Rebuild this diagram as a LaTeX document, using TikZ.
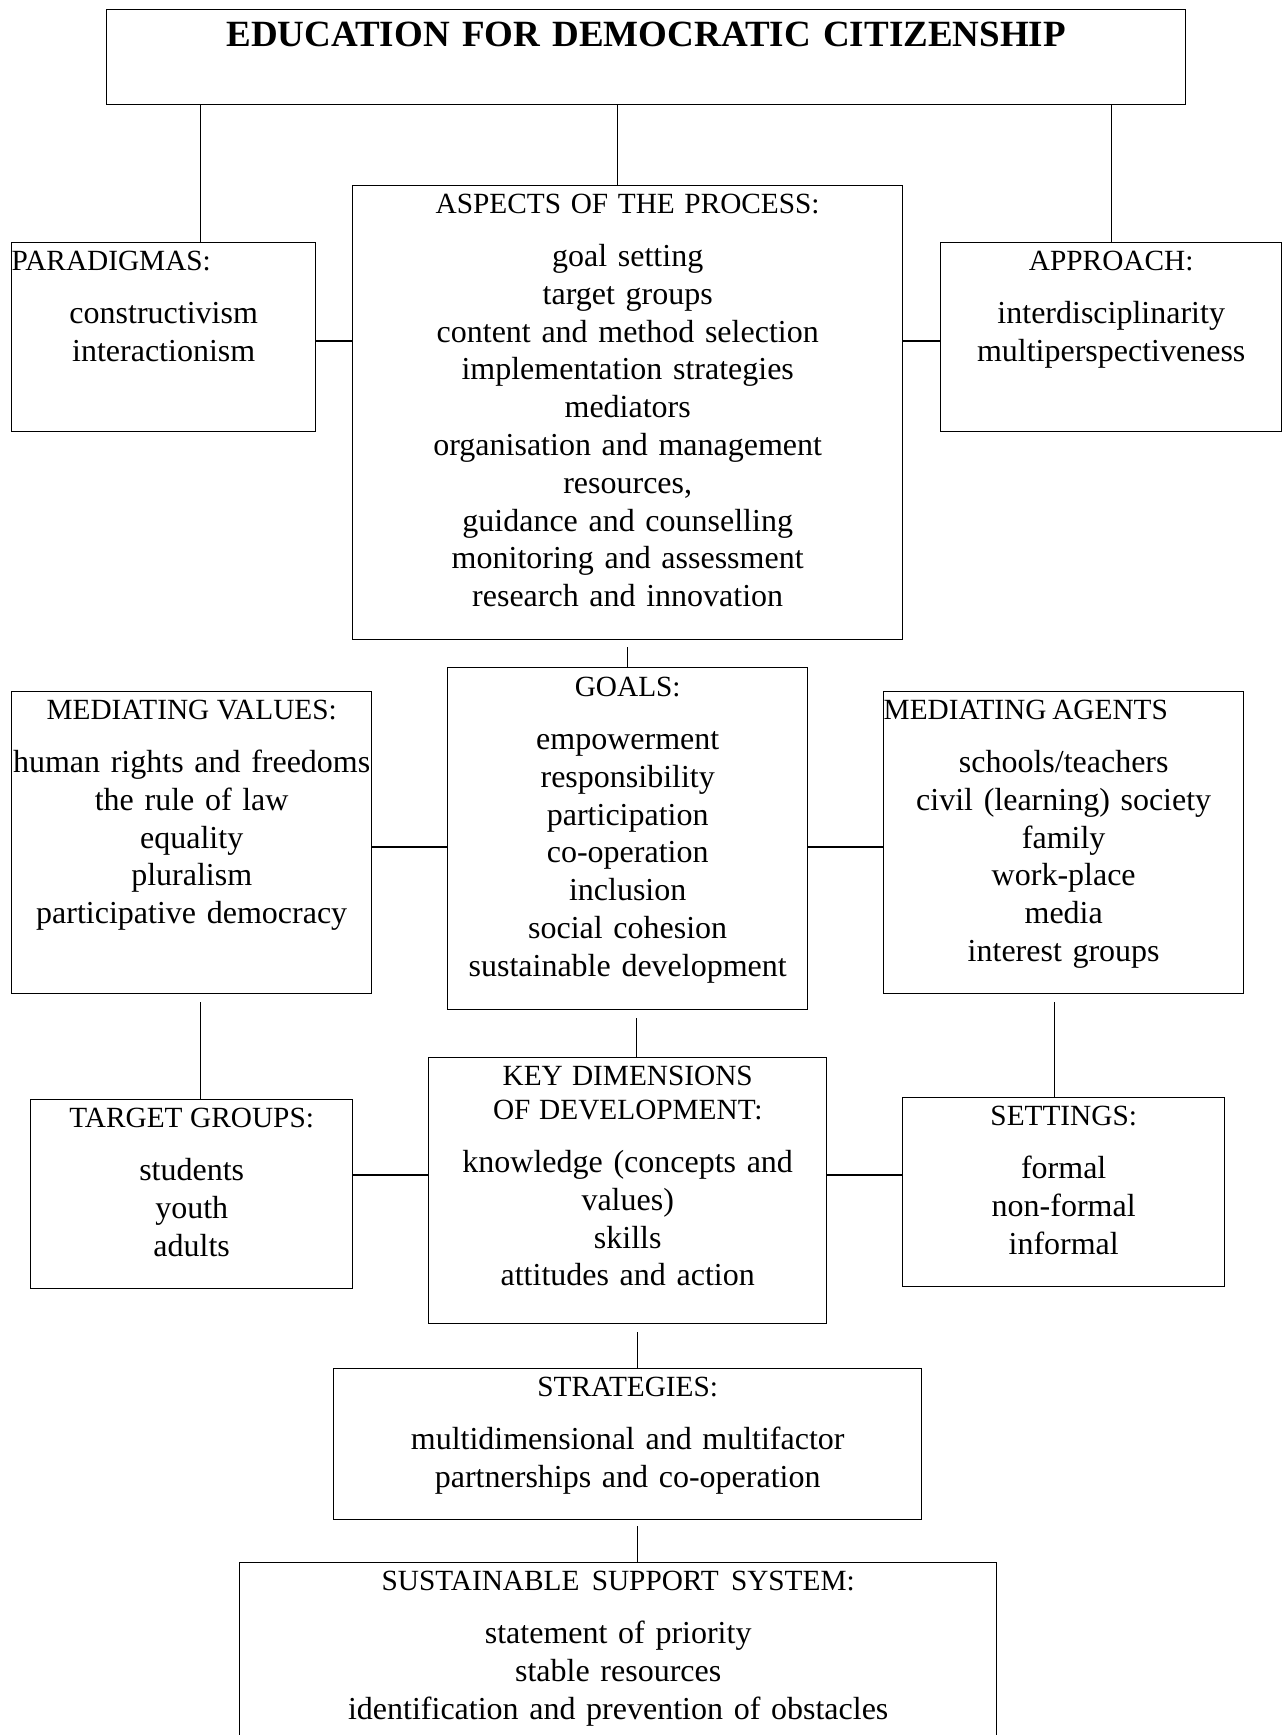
\documentclass[tikz,border=0pt]{standalone}
\usepackage{fontspec}
\setmainfont{Liberation Serif}
\usetikzlibrary{positioning}
\newcommand\boxfont{\fontsize{32}{37.8}\selectfont\spaceskip=0.2em plus 0.1em minus 0.05em\relax}
\newcommand\hdfont{\fontsize{29.3}{37.8}\selectfont\spaceskip=0.2em plus 0.1em minus 0.05em\relax}

\begin{document}
\begin{tikzpicture}[x=1pt,y=-1pt,
  box/.style={draw,line width=1.4pt,anchor=north west,inner sep=0pt},
  txt/.style={inner sep=0pt,align=center,font=\boxfont},
  link/.style={line width=1pt},
  hlink/.style={line width=1.6pt}]
\useasboundingbox (0,0) rectangle (1285,1735);
\clip (0,0) rectangle (1285,1735);

% the frames
\node[box,minimum width=1079pt,minimum height=95pt] (title) at (106,9) {};
\node[box,minimum width=550pt,minimum height=454pt] (asp) at (352,185) {};
\node[box,minimum width=304pt,minimum height=189pt] (par) at (11,242) {};
\node[box,minimum width=341pt,minimum height=189pt] (app) at (940,242) {};
\node[box,minimum width=360pt,minimum height=342pt] (goals) at (447,667) {};
\node[box,minimum width=360pt,minimum height=302pt] (val) at (11,691) {};
\node[box,minimum width=360pt,minimum height=302pt] (agt) at (883,691) {};
\node[box,minimum width=322pt,minimum height=189pt] (tg) at (30,1099) {};
\node[box,minimum width=398pt,minimum height=266pt] (key) at (428,1057) {};
\node[box,minimum width=322pt,minimum height=189pt] (set) at (902,1097) {};
\node[box,minimum width=588pt,minimum height=151pt] (str) at (333,1368) {};
\node[box,minimum width=757pt,minimum height=240pt] (sup) at (239,1562) {}; % runs off the page

% the texts
\node[txt,text width=1079pt,font=\fontsize{37}{44}\selectfont\bfseries,below=13pt of title.north] (titletxt)
  {EDUCATION FOR DEMOCRATIC CITIZENSHIP};
\node[txt,text width=550pt,below=9pt of asp.north] (asptxt)
  {{\hdfont ASPECTS OF THE PROCESS:}\\[15pt]
   goal setting\\target groups\\content and method selection\\implementation strategies\\
   mediators\\organisation and management\\resources,\\guidance and counselling\\
   monitoring and assessment\\research and innovation};
\node[txt,text width=304pt,below=9pt of par.north] (partxt)
  {{\hdfont\makebox[\linewidth][l]{PARADIGMAS:}}\\[15pt]
   constructivism\\interactionism};
\node[txt,text width=341pt,below=9pt of app.north] (apptxt)
  {{\hdfont APPROACH:}\\[15pt]
   interdisciplinarity\\multiperspectiveness};
\node[txt,text width=360pt,below=10pt of goals.north] (goalstxt)
  {{\hdfont GOALS:}\\[15pt]
   empowerment\\responsibility\\participation\\co-operation\\inclusion\\
   social cohesion\\sustainable development};
\node[txt,text width=360pt,below=9pt of val.north] (valtxt)
  {{\hdfont MEDIATING VALUES:}\\[15pt]
   human rights and freedoms\\the rule of law\\equality\\pluralism\\participative democracy};
\node[txt,text width=360pt,below=9pt of agt.north] (agttxt)
  {{\hdfont\makebox[\linewidth][l]{MEDIATING AGENTS}}\\[15pt]
   schools/teachers\\civil (learning) society\\family\\work-place\\media\\interest groups};
\node[txt,text width=322pt,below=9pt of tg.north] (tgtxt)
  {{\hdfont TARGET GROUPS:}\\[15pt]
   students\\youth\\adults};
\node[txt,text width=398pt,below=9pt of key.north] (keytxt)
  {{\hdfont KEY DIMENSIONS\\[-3.8pt]OF DEVELOPMENT:}\\[15pt]
   knowledge (concepts and\\values)\\skills\\attitudes and action};
\node[txt,text width=322pt,below=9pt of set.north] (settxt)
  {{\hdfont SETTINGS:}\\[15pt]
   formal\\non-formal\\informal};
\node[txt,text width=588pt,below=9pt of str.north] (strtxt)
  {{\hdfont STRATEGIES:}\\[15pt]
   multidimensional and multifactor\\partnerships and co-operation};
\node[txt,text width=757pt,below=9pt of sup.north] (suptxt)
  {{\hdfont SUSTAINABLE SUPPORT SYSTEM:}\\[15pt]
   statement of priority\\stable resources\\identification and prevention of obstacles};

% connectors
\draw[link] ([xshift=37pt]title.south -| par.north) -- ([xshift=37pt]par.north);
\draw[link] ([xshift=-10pt]title.south -| asp.north) -- ([xshift=-10pt]asp.north);
\draw[link] (title.south -| app.north) -- (app.north);
\draw[hlink] ([yshift=-3.5pt]par.east) -- ([yshift=-3.5pt]par.east -| asp.west);
\draw[hlink] ([yshift=-3.5pt]app.west) -- ([yshift=-3.5pt]app.west -| asp.east);
\draw[link,shorten <=7pt] (asp.south -| goals.north) -- (goals.north);
\draw[hlink] ([yshift=-4pt]val.east) -- ([yshift=-4pt]val.east -| goals.west);
\draw[hlink] ([yshift=-4pt]agt.west) -- ([yshift=-4pt]agt.west -| goals.east);
\draw[link,shorten <=8pt] ([xshift=9pt]val.south) -- ([xshift=9pt]val.south |- tg.north);
\draw[link,shorten <=8pt] ([xshift=9pt]goals.south) -- ([xshift=9pt]goals.south |- key.north);
\draw[link,shorten <=8pt] ([xshift=-9pt]agt.south) -- ([xshift=-9pt]agt.south |- set.north);
\draw[hlink] ([yshift=19.5pt]tg.east) -- ([yshift=19.5pt]tg.east -| key.west);
\draw[hlink] ([yshift=17.5pt]set.west) -- ([yshift=17.5pt]set.west -| key.east);
\draw[link,shorten <=8pt] ([xshift=10pt]key.south) -- ([xshift=10pt]key.south |- str.north);
\draw[link,shorten <=6pt] ([xshift=10pt]str.south) -- ([xshift=10pt]str.south |- sup.north);
\end{tikzpicture}
\end{document}
